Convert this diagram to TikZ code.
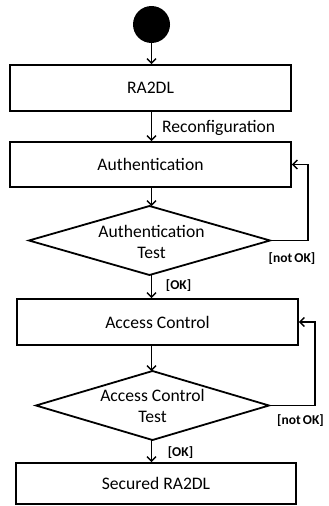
\documentclass[tikz,border=0pt]{standalone}
\usepackage{fontspec}
\setmainfont{Carlito}
\usetikzlibrary{arrows.meta,shapes.geometric,calc}
\begin{document}
\begin{tikzpicture}[x=1pt,y=-1pt,
  every node/.style={font=\fontsize{17.6}{21}\selectfont},
  box/.style={draw, line width=1.8pt, inner sep=0pt},
  dia/.style={draw, diamond, line width=1.8pt, inner sep=0pt, outer sep=0pt},
  arr/.style={line width=1.4pt, -{Straight Barb[length=4.5pt,width=9pt]}},
  cond/.style={font=\fontsize{13.5}{16}\selectfont\bfseries, inner sep=0pt},
  lbl/.style={inner sep=0pt}]
\useasboundingbox (0,0) rectangle (329,506);
% start
\node[circle, fill=black, minimum size=37pt, inner sep=0pt] (start) at (151.5,24.5) {};
% boxes
\node[box, minimum width=281pt, minimum height=46pt] (ra) at (150.5,88) {RA2DL};
\node[box, minimum width=281pt, minimum height=45pt] (auth) at (150.5,164.5) {Authentication};
\node[dia, minimum width=241pt, minimum height=69pt] (t1) at (149.5,240.5) {};
\node[lbl, align=center] (t1text) at (151.5,241.5) {Authentication\\Test};
\node[box, minimum width=281pt, minimum height=46pt] (acc) at (157.5,322) {Access Control};
\node[dia, minimum width=233pt, minimum height=69pt] (t2) at (152.5,405.5) {};
\node[lbl, align=center] (t2text) at (152.5,406) {Access Control\\Test};
\node[box, minimum width=280pt, minimum height=41pt] (sec) at (156,483.5) {Secured RA2DL};
% labels
\node[lbl, anchor=west] (reconf) at (162,128) {Reconfiguration};
\node[cond] (nok1) at (292,259) {[not\,OK]};
\node[cond] (ok1) at (178.5,286) {[OK]};
\node[cond] (nok2) at (300.5,421) {[not\,OK]};
\node[cond] (ok2) at (180.5,453) {[OK]};
% loop corners
\coordinate (c1) at (308,240.5);
\coordinate (c2) at (315,405.5);
% connectors
\draw[arr] (start.south) -- (ra.north -| start.south);
\draw[arr] (ra.south -| start.south) -- (auth.north -| start.south);
\draw[arr] (auth.south -| start.south) -- (t1.north -| start.south);
\draw[arr] (t1.south -| start.south) -- (acc.north -| start.south);
\draw[arr] (acc.south -| start.south) -- (t2.north -| start.south);
\draw[arr] (t2.south -| start.south) -- (sec.north -| start.south);
\draw[arr] (t1.east) -- (c1) -- (c1 |- auth.east) -- (auth.east);
\draw[arr] (t2.east) -- (c2) -- (c2 |- acc.east) -- (acc.east);
\end{tikzpicture}
\end{document}
